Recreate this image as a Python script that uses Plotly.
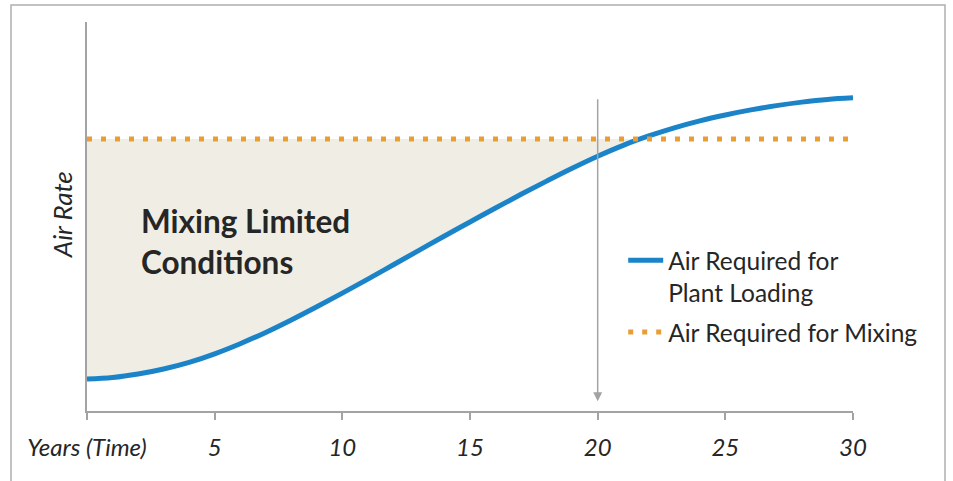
import plotly.graph_objects as go

# ---- data ----
years = list(range(0, 31))
air_plant_loading = [8.2, 8.6, 9.5, 10.8, 12.5, 14.7, 17.3, 20.2, 23.4, 26.8, 30.3,
                     33.9, 37.6, 41.3, 45.0, 48.6, 52.2, 55.7, 59.1, 62.4, 65.5,
                     68.3, 70.7, 72.8, 74.6, 76.1, 77.4, 78.5, 79.4, 80.1, 80.5]
air_mixing = 69.9
marker_year = 20
tick_vals = [0, 5, 10, 15, 20, 25, 30]
tick_text = ["Years (Time)", "5", "10", "15", "20", "25", "30"]

BLUE = "#1B84C9"
ORANGE = "#E99E33"
FILL = "#F0EEE4"
GRAY = "#A3A3A3"
TEXT = "#262626"
FONT = "Lato"

# ---- region where the plant-loading curve is below the mixing requirement ----
fx, fy = [], []
for i, (x, y) in enumerate(zip(years, air_plant_loading)):
    if y <= air_mixing:
        fx.append(x); fy.append(y)
    else:
        x0, y0 = years[i - 1], air_plant_loading[i - 1]
        xc = x0 + (air_mixing - y0) / (y - y0) * (x - x0)
        fx.append(xc); fy.append(air_mixing)
        break
poly_x = fx + [fx[-1], fx[0]]
poly_y = fy + [air_mixing, air_mixing]

fig = go.Figure()
fig.add_trace(go.Scatter(x=poly_x, y=poly_y, fill="toself", fillcolor=FILL,
                         line=dict(width=0), mode="lines", showlegend=False,
                         hoverinfo="skip"))
fig.add_trace(go.Scatter(x=years, y=air_plant_loading, mode="lines",
                         line=dict(color=BLUE, width=5, shape="spline"),
                         name="Air Required for<br>Plant Loading", legendgroup="plant"))
fig.add_trace(go.Scatter(x=[years[0], years[-1]], y=[air_mixing, air_mixing],
                         mode="lines", line=dict(color=ORANGE, width=5, dash="5px,9px"),
                         name="Air Required for Mixing", legendgroup="mixing"))

fig.add_annotation(x=marker_year, y=2.5, ax=marker_year, ay=air_plant_loading[-1],
                   xref="x", yref="y", axref="x", ayref="y", text="",
                   showarrow=True, arrowhead=2, arrowsize=1.2, arrowwidth=1.5,
                   arrowcolor=GRAY)
fig.add_annotation(x=2.05, y=43.6, xref="x", yref="y", xanchor="left",
                   text="<b>Mixing Limited<br>Conditions</b>", showarrow=False,
                   align="left", font=dict(family=FONT, size=31.5, color=TEXT))
fig.add_annotation(x=-0.033, y=0.505, xref="paper", yref="paper", text="<i>Air Rate</i>",
                   textangle=-90, showarrow=False, xanchor="center", yanchor="middle",
                   font=dict(family=FONT, size=26, color=TEXT))

# image border
fig.add_shape(type="rect", xref="paper", yref="paper", x0=-0.0992, x1=1.1201,
              y0=-0.25, y1=1.0437, line=dict(color="#AFAFAF", width=1.5))

fig.update_layout(
    width=953, height=481,
    margin=dict(l=87, r=100, t=22, b=70),
    paper_bgcolor="white", plot_bgcolor="white",
    font=dict(family=FONT, color=TEXT),
    legend=dict(x=0.70, y=0.445, xanchor="left", yanchor="top",
                font=dict(family=FONT, size=24.5, color=TEXT),
                bgcolor="rgba(0,0,0,0)", valign="top", itemwidth=35,
                traceorder="grouped", tracegroupgap=5),
    xaxis=dict(range=[0, 30], showgrid=False, zeroline=False, showline=True,
               linecolor=GRAY, linewidth=2, ticks="outside", ticklen=7,
               tickcolor=GRAY, tickwidth=1.5, tickvals=tick_vals,
               ticktext=[f"<i>{t}</i>" for t in tick_text],
               tickfont=dict(family=FONT, size=24, color=TEXT),
               ticklabelstandoff=7),
    yaxis=dict(range=[0, 100], showgrid=False, zeroline=False, showline=True,
               linecolor=GRAY, linewidth=2, showticklabels=False, ticks=""),
)

fig.write_html("out.html", config={"displayModeBar": False},
               post_script="document.body.style.margin='0';document.body.style.overflow='hidden';")
